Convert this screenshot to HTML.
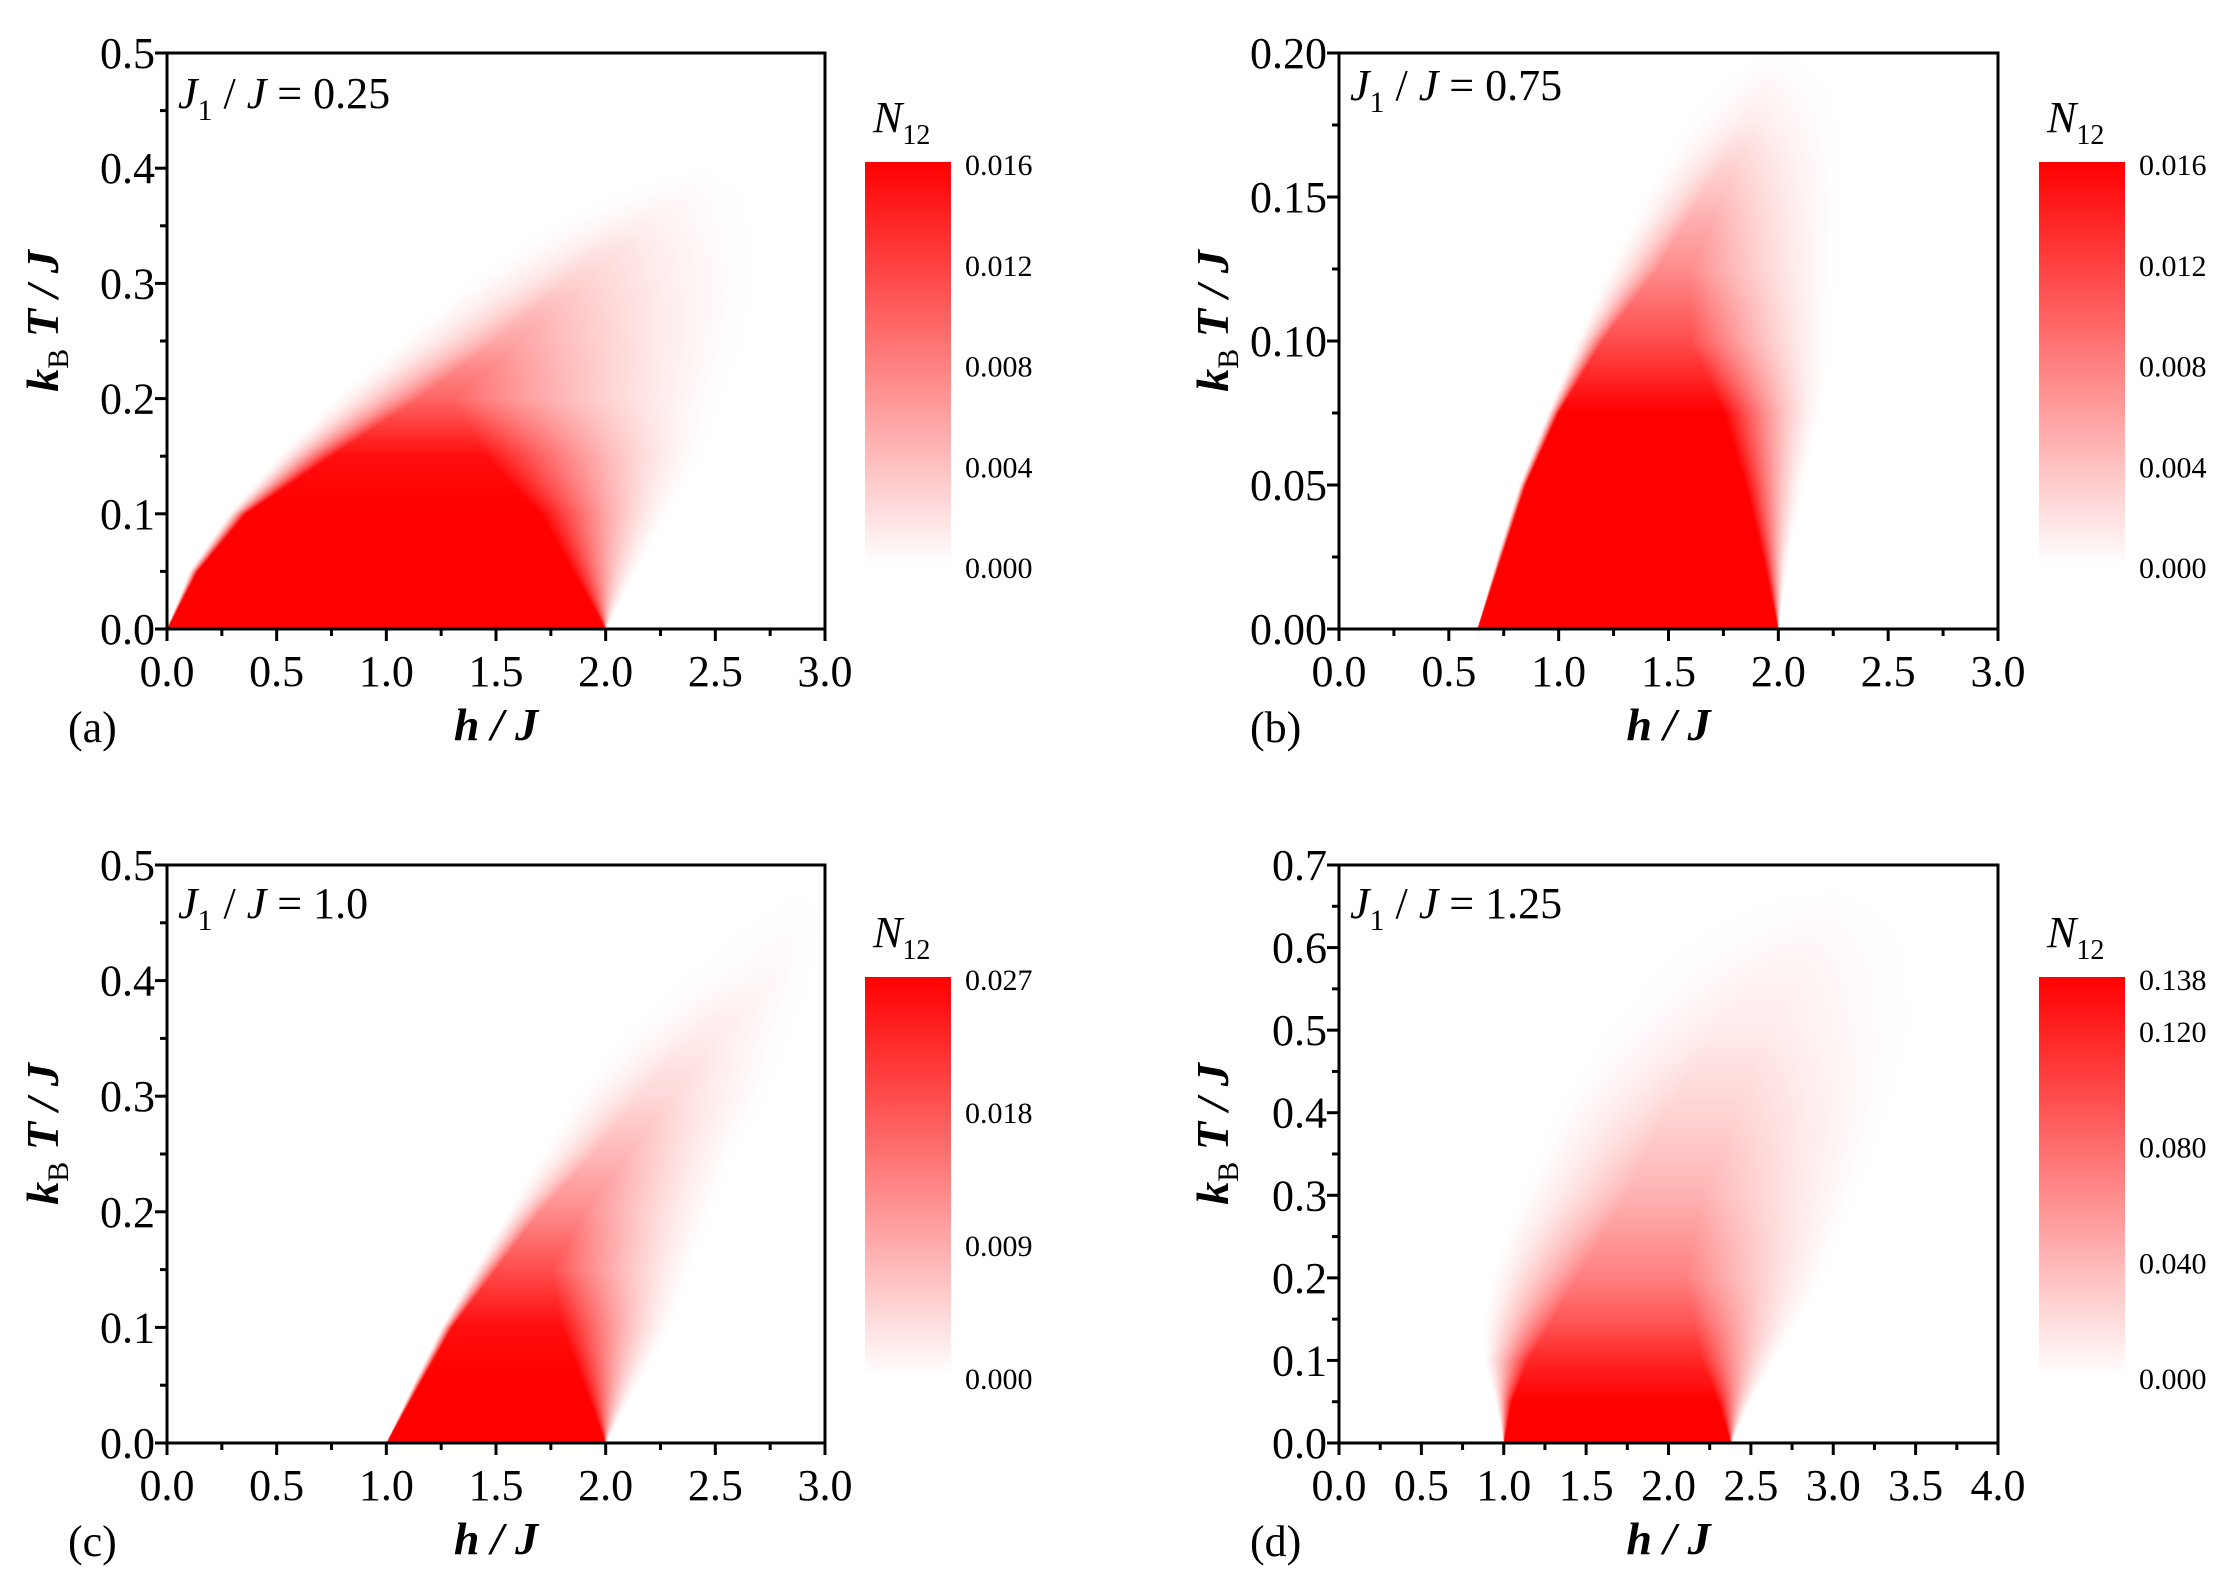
<!DOCTYPE html>
<html><head><meta charset="utf-8">
<style>
html,body{margin:0;padding:0;background:#fff;}
#wrap{position:relative;width:2231px;height:1585px;overflow:hidden;}
canvas{position:absolute;}
svg{position:absolute;left:0;top:0;}
text{font-family:"Liberation Serif","DejaVu Serif",serif;fill:#000;}
</style></head>
<body>
<div id="wrap">
<canvas id="cva"></canvas>
<canvas id="cvb"></canvas>
<canvas id="cvc"></canvas>
<canvas id="cvd"></canvas>
<svg id="svg" width="2231" height="1585"></svg>
</div>
<script>
// ---- Panel (a): J1/J = 0.25 ----
const aT     = [0, 0.05, 0.10, 0.15, 0.20, 0.25, 0.30, 0.35, 0.38, 0.40];
const aFL    = [0, 0.10, 0.28, 0.50, 0.75, 1.05, 1.35, 1.70, 2.00, 2.40];
const aSL    = [0, 0.14, 0.36, 0.75, 1.15, 1.50, 1.80, 2.10, 2.35, 2.45];
const aSR    = [2.0, 1.85, 1.70, 1.45, 1.30, 1.60, 1.90, 2.20, 2.40, 2.45];
const aFR    = [2.0, 2.15, 2.30, 2.45, 2.55, 2.65, 2.70, 2.70, 2.65, 2.50];
const aPeak  = [1, 1, 1, 0.95, 0.6, 0.35, 0.18, 0.06, 0.02, 0];
const aXTicks = ["0.0","0.5","1.0","1.5","2.0","2.5","3.0"];
const aYTicks = ["0.0","0.1","0.2","0.3","0.4","0.5"];
const aCbTicks = [0.000, 0.004, 0.008, 0.012, 0.016];

// ---- Panel (b): J1/J = 0.75 ----
const bT     = [0, 0.025, 0.05, 0.075, 0.10, 0.125, 0.15, 0.175, 0.19, 0.20];
const bFL    = [0.63, 0.72, 0.82, 0.95, 1.08, 1.22, 1.38, 1.55, 1.70, 1.90];
const bSL    = [0.63, 0.74, 0.85, 1.00, 1.20, 1.45, 1.65, 1.85, 1.95, 2.00];
const bSR    = [2.00, 1.93, 1.85, 1.75, 1.60, 1.60, 1.75, 1.90, 1.95, 2.00];
const bFR    = [2.00, 2.05, 2.12, 2.20, 2.25, 2.28, 2.30, 2.30, 2.25, 2.10];
const bPeak  = [1, 1, 1, 1, 0.7, 0.45, 0.25, 0.08, 0.03, 0];
const bXTicks = ["0.0","0.5","1.0","1.5","2.0","2.5","3.0"];
const bYTicks = ["0.00","0.05","0.10","0.15","0.20"];
const bCbTicks = [0.000, 0.004, 0.008, 0.012, 0.016];

// ---- Panel (c): J1/J = 1.0 ----
const cT     = [0, 0.05, 0.10, 0.15, 0.20, 0.25, 0.30, 0.35, 0.40, 0.45, 0.48];
const cFL    = [1.00, 1.12, 1.25, 1.40, 1.55, 1.70, 1.85, 2.05, 2.30, 2.60, 2.80];
const cSL    = [1.00, 1.15, 1.30, 1.50, 1.70, 1.95, 2.15, 2.40, 2.65, 2.85, 2.90];
const cSR    = [2.00, 1.90, 1.80, 1.75, 1.90, 2.10, 2.30, 2.50, 2.75, 2.90, 2.90];
const cFR    = [2.00, 2.15, 2.30, 2.40, 2.50, 2.60, 2.75, 2.85, 2.95, 3.00, 3.00];
const cPeak  = [1, 1, 0.95, 0.7, 0.45, 0.28, 0.15, 0.08, 0.03, 0.01, 0];
const cXTicks = ["0.0","0.5","1.0","1.5","2.0","2.5","3.0"];
const cYTicks = ["0.0","0.1","0.2","0.3","0.4","0.5"];
const cCbTicks = [0.000, 0.009, 0.018, 0.027];

// ---- Panel (d): J1/J = 1.25 ----
const dT     = [0, 0.05, 0.10, 0.15, 0.20, 0.25, 0.30, 0.40, 0.50, 0.60, 0.65, 0.67];
const dFL    = [1.00, 0.95, 0.88, 0.88, 0.92, 1.00, 1.10, 1.30, 1.60, 2.00, 2.40, 2.80];
const dSL    = [1.00, 1.05, 1.15, 1.30, 1.45, 1.60, 1.75, 2.00, 2.30, 2.70, 2.90, 3.00];
const dSR    = [2.38, 2.30, 2.20, 2.15, 2.10, 2.15, 2.20, 2.40, 2.60, 2.90, 3.00, 3.00];
const dFR    = [2.38, 2.50, 2.65, 2.80, 2.95, 3.05, 3.15, 3.35, 3.50, 3.50, 3.30, 3.10];
const dPeak  = [1, 1, 0.85, 0.65, 0.5, 0.4, 0.3, 0.17, 0.08, 0.03, 0.01, 0];
const dXTicks = ["0.0","0.5","1.0","1.5","2.0","2.5","3.0","3.5","4.0"];
const dYTicks = ["0.0","0.1","0.2","0.3","0.4","0.5","0.6","0.7"];
const dCbTicks = [0.000, 0.040, 0.080, 0.120, 0.138];

const panels = [
 {id:'a', cv:'cva', L:167, R:825, T:53, B:629, xmax:3, ymax:0.5, yminor:0.05, xminor:0.25,
  rows:aT, fl:aFL, sl:aSL, sr:aSR, fr:aFR, pk:aPeak, pw:1.5,
  xt:aXTicks, yt:aYTicks, cb:aCbTicks, cbmax:0.016, cbL:865, cbR:951, cbT:162, cbB:565,
  j:'0.25', lab:'(a)', labX:68, labY:742, xtY:686, xtitleY:740, ytitleX:58, jx:178, jy:108},
 {id:'b', cv:'cvb', L:1339, R:1998, T:53, B:629, xmax:3, ymax:0.2, yminor:0.025, xminor:0.25,
  rows:bT, fl:bFL, sl:bSL, sr:bSR, fr:bFR, pk:bPeak, pw:1.5,
  xt:bXTicks, yt:bYTicks, cb:bCbTicks, cbmax:0.016, cbL:2039, cbR:2125, cbT:162, cbB:565,
  j:'0.75', lab:'(b)', labX:1250, labY:742, xtY:686, xtitleY:740, ytitleX:1228, jx:1350, jy:100},
 {id:'c', cv:'cvc', L:167, R:825, T:865, B:1443, xmax:3, ymax:0.5, yminor:0.05, xminor:0.25,
  rows:cT, fl:cFL, sl:cSL, sr:cSR, fr:cFR, pk:cPeak, pw:1.4,
  xt:cXTicks, yt:cYTicks, cb:cCbTicks, cbmax:0.027, cbL:865, cbR:951, cbT:977, cbB:1376,
  j:'1.0', lab:'(c)', labX:68, labY:1556, xtY:1500, xtitleY:1554, ytitleX:58, jx:178, jy:918},
 {id:'d', cv:'cvd', L:1339, R:1998, T:865, B:1443, xmax:4, ymax:0.7, yminor:0.05, xminor:0.25,
  rows:dT, fl:dFL, sl:dSL, sr:dSR, fr:dFR, pk:dPeak, pw:1.3,
  xt:dXTicks, yt:dYTicks, cb:dCbTicks, cbmax:0.138, cbL:2039, cbR:2125, cbT:977, cbB:1376,
  j:'1.25', lab:'(d)', labX:1250, labY:1556, xtY:1500, xtitleY:1554, ytitleX:1228, jx:1350, jy:918}
];

function interp(xs, ys, x){
  for(let i=0;i<xs.length-1;i++){
    if(x>=xs[i] && x<=xs[i+1]){ const t=(x-xs[i])/(xs[i+1]-xs[i]); return ys[i]+(ys[i+1]-ys[i])*t; }
  }
  return null;
}
const NS='http://www.w3.org/2000/svg';
const svg=document.getElementById('svg');
function mk(tag, attrs, parent){
  const e=document.createElementNS(NS,tag);
  for(const k in attrs) e.setAttribute(k, attrs[k]);
  (parent||svg).appendChild(e); return e;
}

panels.forEach(p=>{
  const W=p.R-p.L, Hh=p.B-p.T;
  const cv=document.getElementById(p.cv);
  cv.width=W; cv.height=Hh; cv.style.left=p.L+'px'; cv.style.top=p.T+'px';
  const ctx=cv.getContext('2d');
  const img=ctx.createImageData(W,Hh);
  const xS=v=>p.L+v/p.xmax*W, yS=v=>p.B-v/p.ymax*Hh;
  for(let py=0;py<Hh;py++){
    const T=(Hh-py-0.5)/Hh*p.ymax;
    const fl=interp(p.rows,p.fl,T), sl=interp(p.rows,p.sl,T), sr=interp(p.rows,p.sr,T), fr=interp(p.rows,p.fr,T), pk=interp(p.rows,p.pk,T);
    let a=sl,b=sr;
    if(fl!==null && a>b){ const m=(a+b)/2; a=m; b=m; }
    for(let px=0;px<W;px++){
      let v=0;
      if(fl!==null){
        const h=(px+0.5)/W*p.xmax;
        if(h>=a && h<=b) v=pk;
        else if(h<a){ if(a>fl){ const d=(a-h)/(a-fl); if(d<1) v=pk*Math.pow(1-d,p.pw);} }
        else { if(fr>b){ const d=(h-b)/(fr-b); if(d<1) v=pk*Math.pow(1-d,p.pw);} }
      }
      v=Math.max(0,Math.min(1,v));
      const i=(py*W+px)*4;
      const g=Math.round(255*(1-v));
      img.data[i]=255; img.data[i+1]=g; img.data[i+2]=g; img.data[i+3]=255;
    }
  }
  ctx.putImageData(img,0,0);

  const g=mk('g',{});
  
  
  const box=mk('rect',{x:p.L,y:p.T,width:W,height:Hh,fill:'none',stroke:'#000','stroke-width':3},g);
  
  
  const nx=p.xt.length-1;
  for(let k=0;k<=Math.round(p.xmax/p.xminor);k++){
    const v=k*p.xminor; const major=Math.abs(v/(p.xmax/nx)-Math.round(v/(p.xmax/nx)))<1e-6;
    mk('line',{x1:xS(v),x2:xS(v),y1:p.B,y2:p.B+(major?12:7),stroke:'#000','stroke-width':3},g);
  }
  p.xt.forEach((t,i)=>{
    const tx=mk('text',{x:xS(i*p.xmax/nx),y:p.xtY,'font-size':44,'text-anchor':'middle'},g);
    tx.textContent=t;
    
    
  });
  const ny=p.yt.length-1;
  for(let k=0;k<=Math.round(p.ymax/p.yminor);k++){
    const v=k*p.yminor; const major=Math.abs(v/(p.ymax/ny)-Math.round(v/(p.ymax/ny)))<1e-6;
    mk('line',{x1:p.L,x2:p.L-(major?12:7),y1:yS(v),y2:yS(v),stroke:'#000','stroke-width':3},g);
  }
  p.yt.forEach((t,i)=>{
    const ty=mk('text',{x:p.L-12,y:yS(i*p.ymax/ny)+15,'font-size':44,'text-anchor':'end'},g);
    ty.textContent=t;
    
    
  });
  const xt=mk('text',{x:(p.L+p.R)/2,y:p.xtitleY,'font-size':46,'text-anchor':'middle','font-style':'italic','font-weight':'bold'},g);
  xt.innerHTML='h / J';
  
  
  const yt=mk('text',{x:0,y:0,'font-size':46,'text-anchor':'middle','font-style':'italic','font-weight':'bold',transform:`translate(${p.ytitleX},${(p.T+p.B)/2-20}) rotate(-90)`},g);
  yt.innerHTML='k<tspan font-size="30" font-style="normal" font-weight="normal" dy="10">B</tspan><tspan dy="-10"> T / J</tspan>';
  
  
  const jt=mk('text',{x:p.jx,y:p.jy,'font-size':44},g);
  jt.innerHTML='<tspan font-style="italic">J</tspan><tspan font-size="30" dy="12">1</tspan><tspan dy="-12"> / </tspan><tspan font-style="italic">J</tspan> = '+p.j;
  
  
  const pl=mk('text',{x:p.labX,y:p.labY,'font-size':44},g);
  pl.textContent=p.lab;
  
  
  const gid='grad'+p.id;
  const defs=mk('defs',{},g);
  const lg=mk('linearGradient',{id:gid,x1:0,y1:1,x2:0,y2:0},defs);
  mk('stop',{offset:0,'stop-color':'#ffffff'},lg);
  mk('stop',{offset:1,'stop-color':'#ff0000'},lg);
  const cbr=mk('rect',{x:p.cbL,y:p.cbT,width:p.cbR-p.cbL,height:p.cbB-p.cbT,fill:`url(#${gid})`},g);
  
  
  p.cb.forEach(v=>{
    const y=p.cbB+3-v/p.cbmax*(p.cbB-p.cbT);
    const ct=mk('text',{x:p.cbR+14,y:y+10,'font-size':30},g);
    ct.textContent=v.toFixed(3);
    
    
  });
  const cbt=mk('text',{x:p.cbL+8,y:p.cbT-30,'font-size':44,'font-style':'italic'},g);
  cbt.innerHTML='N<tspan font-size="28" font-style="normal" dy="12">12</tspan>';
  
  
});
</script>
</body></html>
